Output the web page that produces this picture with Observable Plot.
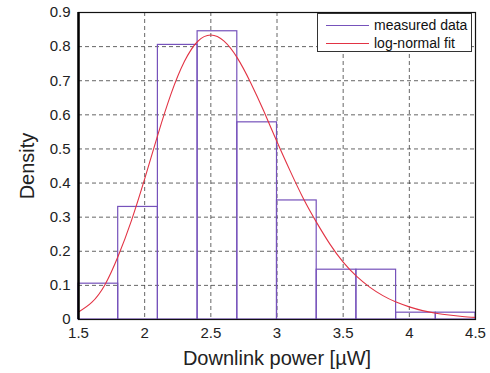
<!DOCTYPE html>
<html>
<head>
<meta charset="utf-8">
<script src="https://cdn.jsdelivr.net/npm/d3@7"></script>
<script src="https://cdn.jsdelivr.net/npm/@observablehq/plot@0.6"></script>
<style>
  html, body { margin: 0; padding: 0; background: #fff; }
  #wrap { position: relative; width: 490px; height: 373px; font-family: "Liberation Sans", Arial, sans-serif; }
  #legend {
    position: absolute; left: 317px; top: 13px; width: 155px; height: 39px;
    border: 1px solid #333; background: #fff; box-sizing: border-box;
    font-size: 14px; color: #111;
  }
  #legend .row { position: absolute; left: 8px; height: 18px; display: flex; align-items: center; }
  #legend .swatch { width: 43px; height: 0; border-top: 1px solid; margin-right: 5px; }
  g[aria-label="y-title"] text { letter-spacing: 1.6px; }
  g[aria-label="x-title"] text { letter-spacing: 0.3px; }
</style>
</head>
<body>
<div id="wrap"></div>
<script>
// Histogram bins (edges) and measured densities
const binEdges = [1.5, 1.8, 2.1, 2.4, 2.7, 3.0, 3.3, 3.6, 3.9, 4.2, 4.5];
const measuredDensity = [0.105, 0.33, 0.805, 0.845, 0.578, 0.349, 0.146, 0.146, 0.02, 0.02];

// Log-normal fit curve
const fitX = [1.5, 1.6, 1.7, 1.8, 1.9, 2.0, 2.1, 2.2, 2.3, 2.4, 2.5, 2.6, 2.7, 2.8, 2.9, 3.0,
              3.1, 3.2, 3.3, 3.4, 3.5, 3.6, 3.7, 3.8, 3.9, 4.0, 4.1, 4.2, 4.3, 4.4, 4.5];
const fitY = [0.022, 0.05, 0.102, 0.186, 0.29, 0.412, 0.542, 0.662, 0.756, 0.815, 0.834, 0.816,
              0.767, 0.695, 0.611, 0.521, 0.435, 0.354, 0.284, 0.221, 0.168, 0.127, 0.095, 0.07,
              0.051, 0.037, 0.026, 0.0185, 0.013, 0.009, 0.0063];

// Axes
const xTicks = [1.5, 2, 2.5, 3, 3.5, 4, 4.5];
const yTicks = [0, 0.1, 0.2, 0.3, 0.4, 0.5, 0.6, 0.7, 0.8, 0.9];
const xGrid = [2, 2.5, 3, 3.5, 4];
const yGrid = [0.1, 0.2, 0.3, 0.4, 0.5, 0.6, 0.7, 0.8];
const xDomain = [1.5, 4.5];
const yDomain = [0, 0.9];
const xTitle = "Downlink power [µW]";
const yTitle = "Density";
const seriesNames = ["measured data", "log-normal fit"];

const bins = measuredDensity.map((d, i) => ({x1: binEdges[i], x2: binEdges[i + 1], y: d}));
const fit = fitX.map((x, i) => ({x, y: fitY[i]}));

const purple = "#7652bb";
const red = "#e23344";

const chart = Plot.plot({
  width: 490,
  height: 373,
  marginLeft: 78,
  marginRight: 15,
  marginTop: 12,
  marginBottom: 54,
  style: {fontFamily: "'Liberation Sans', Arial, sans-serif", fontSize: "15px", color: "#222", background: "#fff"},
  x: {domain: xDomain},
  y: {domain: yDomain},
  marks: [
    Plot.gridX(xGrid, {stroke: "#333", strokeOpacity: 0.75, strokeDasharray: "4,3"}),
    Plot.gridY(yGrid, {stroke: "#333", strokeOpacity: 0.75, strokeDasharray: "4,3"}),
    Plot.rect(bins, {x1: "x1", x2: "x2", y1: 0, y2: "y", fill: "none", stroke: purple, strokeWidth: 1.2}),
    Plot.line(fit, {x: "x", y: "y", stroke: red, strokeWidth: 1.1, curve: "natural"}),
    Plot.frame({stroke: "#111", strokeWidth: 1.2}),
    Plot.ruleX([xDomain[0]], {stroke: "#000", strokeWidth: 2.5}),
    Plot.axisX(xTicks, {tickSize: 0, tickPadding: 8, label: null, fontSize: 15, tickFormat: d => String(d)}),
    Plot.axisY(yTicks, {tickSize: 0, tickPadding: 8, label: null, fontSize: 15, tickFormat: d => String(d)}),
    Plot.text([xTitle], {frameAnchor: "bottom", dy: 45, fontSize: 20, fill: "#222", text: d => d, ariaLabel: "x-title"}),
    Plot.text([yTitle], {frameAnchor: "left", textAnchor: "middle", dx: -51, rotate: -90, fontSize: 20, fill: "#222", text: d => d, ariaLabel: "y-title"})
  ]
});

const wrap = document.getElementById("wrap");
wrap.appendChild(chart);

const legend = document.createElement("div");
legend.id = "legend";
const colors = [purple, red];
seriesNames.forEach((name, i) => {
  const row = document.createElement("div");
  row.className = "row";
  row.style.top = (2 + i * 18) + "px";
  const sw = document.createElement("span");
  sw.className = "swatch";
  sw.style.borderTopColor = colors[i];
  const tx = document.createElement("span");
  tx.textContent = name;
  row.appendChild(sw);
  row.appendChild(tx);
  legend.appendChild(row);
});
wrap.appendChild(legend);
</script>
</body>
</html>
